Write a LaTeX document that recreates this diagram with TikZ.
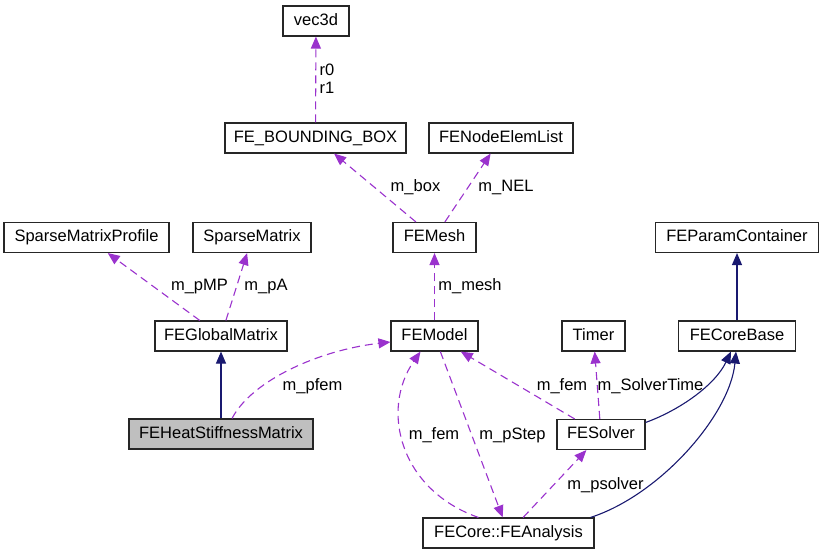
\documentclass[tikz,border=0pt]{standalone}
\usepackage{fontspec}
\setmainfont{Liberation Sans}
\usetikzlibrary{arrows.meta}
\definecolor{member}{HTML}{9A32CD}
\definecolor{inherit}{HTML}{191970}
\definecolor{focus}{HTML}{BFBFBF}

\begin{document}
\begin{tikzpicture}[
    x=1pt, y=-1pt,
    cls/.style={draw=black!85, line width=1.1pt, fill=white, minimum height=30pt, inner sep=0pt, font=\fontsize{16.5}{18}\selectfont, text height=12pt, text depth=3.5pt},
    uses/.style={-{Triangle[length=12pt,width=10pt]}, member, line width=1.1pt, dash pattern=on 8pt off 5pt},
    derives/.style={-{Triangle[length=12pt,width=10pt]}, inherit, line width=1.1pt},
    lbl/.style={font=\fontsize{16.5}{18}\selectfont, text=black, inner sep=0pt, align=left, text height=12pt, text depth=3.5pt}
]
\useasboundingbox (0,0) rectangle (824,555);

\node[cls, minimum width=66pt]  (vec3d)  at (316,21)      {vec3d};
\node[cls, minimum width=181pt] (bbox)   at (315.5,138)   {FE\_BOUNDING\_BOX};
\node[cls, minimum width=144pt] (nel)    at (501,138)     {FENodeElemList};
\node[cls, minimum width=165pt] (smp)    at (86.5,237.5)  {SparseMatrixProfile};
\node[cls, minimum width=118pt] (sm)     at (252,237.5)   {SparseMatrix};
\node[cls, minimum width=83pt]  (mesh)   at (434.5,237.5) {FEMesh};
\node[cls, minimum width=163pt] (pc)     at (737,237.5)   {FEParamContainer};
\node[cls, minimum width=132pt] (gm)     at (221,336)     {FEGlobalMatrix};
\node[cls, minimum width=87pt]  (model)  at (434.5,336)   {FEModel};
\node[cls, minimum width=63pt]  (timer)  at (593.5,336)   {Timer};
\node[cls, minimum width=117pt] (core)   at (737,336)     {FECoreBase};
\node[cls, fill=focus, minimum width=184pt] (heat) at (221,434) {FEHeatStiffnessMatrix};
\node[cls, minimum width=88pt]  (solver) at (601,434.5)   {FESolver};
\node[cls, minimum width=171pt] (ana)    at (508.5,533)   {FECore::FEAnalysis};

% members
\draw[uses] (bbox) -- (vec3d) node[lbl] at (327,89) {r0\\r1};
\draw[uses] (mesh) -- (bbox) node[lbl] at (415.5,187) {m\_box};
\draw[uses] (mesh) -- (nel) node[lbl] at (506,187) {m\_NEL};
\draw[uses] (gm) -- (smp) node[lbl] at (199.5,286) {m\_pMP};
\draw[uses] (gm) -- (sm) node[lbl] at (266,286) {m\_pA};
\draw[uses] (model) -- (mesh) node[lbl] at (470,286) {m\_mesh};
\draw[uses] ([xshift=11pt]heat.north) .. controls (252,380) and (320,350) .. ([yshift=-6pt]model.west)
    node[lbl] at (312.5,386) {m\_pfem};
\draw[uses] (solver) -- (model) node[lbl] at (562,386) {m\_fem};
\draw[uses] (solver) -- (timer) node[lbl] at (650.5,386) {m\_SolverTime};
\draw[uses] ([xshift=-30pt]ana.north) .. controls (400,490) and (380,410) .. ([xshift=-14pt]model.south)
    node[lbl] at (434,435) {m\_fem};
\draw[uses] (model) -- (ana) node[lbl] at (512.5,435) {m\_pStep};
\draw[uses] (ana) -- (solver) node[lbl] at (605.5,485) {m\_psolver};

% inheritance
\draw[derives] (heat) -- (gm);
\draw[derives] (core) -- (pc);
\draw[derives] ([yshift=12pt]solver.east) .. controls (680,410) and (715,385) .. ([xshift=-6pt]core.south);
\draw[derives] ([xshift=82pt]ana.north) .. controls (660,495) and (730,415) .. ([xshift=-1pt]core.south);

\end{tikzpicture}
\end{document}
